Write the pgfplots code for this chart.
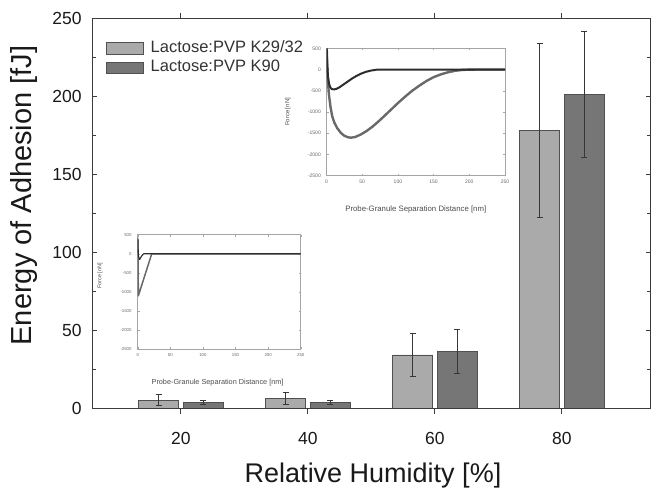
\documentclass[border=0pt]{standalone}
\usepackage{pgfplots}
\pgfplotsset{compat=1.18}
\usepackage{fontspec}
\setmainfont{Liberation Sans}
\definecolor{barA}{RGB}{170,170,170}
\definecolor{barB}{RGB}{118,118,118}
\definecolor{edge}{RGB}{80,80,80}
\definecolor{errc}{RGB}{55,55,55}
\definecolor{frame}{RGB}{60,60,60}
\definecolor{inframe}{RGB}{165,165,165}
\definecolor{curA}{RGB}{105,105,105}
\definecolor{curB}{RGB}{45,45,45}
\begin{document}
\begin{tikzpicture}
\useasboundingbox (0,0) rectangle (653pt,489pt);
% main axis
\begin{axis}[
  at={(92pt,81pt)}, anchor=south west, scale only axis,
  width=558.7pt, height=390pt,
  xmin=6, xmax=94, ymin=0, ymax=250,
  xtick={20,40,60,80}, ytick={0,50,...,250}, minor y tick num=1,
  xtick pos=top, xticklabel pos=bottom,
  ytick pos=both, yticklabel pos=left,
  tick align=inside,
  major tick length=5pt, minor tick length=3.5pt,
  axis line style={frame, line width=0.8pt},
  tick style={frame, line width=0.8pt},
  /pgf/number format/assume math mode=true,
  /pgf/number format/1000 sep={},
  ticklabel style={font=\fontsize{17.5}{20}\selectfont, text=black!90, inner sep=0pt},
  xticklabel style={yshift=-19.4pt},
  yticklabel style={xshift=-10.3pt},
  xlabel={Relative Humidity [\%]},
  xlabel style={at={(axis description cs:0.503,-0.19)}, anchor=base, font=\fontsize{27}{30}\selectfont, text=black!90},
  ylabel={Energy of Adhesion [fJ]},
  ylabel style={at={(axis description cs:-0.108,0.545)}, anchor=base, rotate=0, font=\fontsize{29}{31}\selectfont, text=black!90},
  ybar, bar width=6.3,
  legend style={draw=none, fill=none, at={(axis description cs:0.019,0.948)}, anchor=north west,
    font=\fontsize{16.5}{18}\selectfont, text=black!80,
    nodes={inner sep=0pt, text height=12pt, text depth=3.5pt},
    row sep=4pt,
    /tikz/every odd column/.append style={column sep=7.6pt}},
  legend image code/.code={\draw[#1] (0pt,-5.85pt) rectangle (36.7pt,5.85pt);},
  legend cell align=left,
]
\addplot[bar shift=-3.5, fill=barA, draw=edge, line width=0.6pt,
  error bars/.cd, y dir=both, y explicit,
  error bar style={errc, line width=0.8pt},
  error mark options={errc, line width=0.8pt, mark size=3pt, rotate=90}]
  coordinates {(20,5.1) +- (0,3.5) (40,6.0) +- (0,3.8) (60,34.0) +- (0,13.5) (80,178.0) +- (0,56.0)};
\addlegendentry{Lactose:PVP K29/32}
\addplot[bar shift=3.5, fill=barB, draw=edge, line width=0.6pt,
  error bars/.cd, y dir=both, y explicit,
  error bar style={errc, line width=0.8pt},
  error mark options={errc, line width=0.8pt, mark size=3pt, rotate=90}]
  coordinates {(20,3.5) +- (0,1.2) (40,3.7) +- (0,1.1) (60,36.4) +- (0,14.0) (80,201.0) +- (0,40.5)};
\addlegendentry{Lactose:PVP K90}
\end{axis}
% bottom outward ticks
\begin{axis}[
  at={(92pt,81pt)}, anchor=south west, scale only axis,
  width=558.7pt, height=390pt,
  xmin=6, xmax=94, ymin=0, ymax=250,
  axis x line*=bottom, axis y line=none,
  xtick={20,40,60,80}, xticklabels={},
  tick align=outside, major tick length=6pt,
  axis line style={frame, line width=0.8pt},
  tick style={frame, line width=0.8pt},
]
\addplot[draw=none] coordinates {(20,0) (80,0)};
\end{axis}
% upper inset
\begin{axis}[
  at={(326.5pt,313.3pt)}, anchor=south west, scale only axis,
  width=178.5pt, height=127.4pt,
  xmin=0, xmax=250, ymin=-2500, ymax=500,
  xtick={0,50,...,250}, ytick={-2500,-2000,...,500},
  tick align=inside, major tick length=2pt,
  axis line style={inframe, line width=0.5pt},
  tick style={inframe, line width=0.4pt},
  /pgf/number format/assume math mode=true,
  /pgf/number format/1000 sep={},
  ticklabel style={font=\fontsize{5}{6}\selectfont, text=black!60, inner sep=0pt},
  xticklabel style={yshift=-3.8pt},
  yticklabel style={xshift=-5.5pt},
  xlabel={Probe-Granule Separation Distance [nm]},
  xlabel style={at={(axis description cs:0.5,-0.269)}, anchor=center, font=\fontsize{7.8}{9}\selectfont, text=black!70},
  ylabel={Force [nN]},
  ylabel style={at={(axis description cs:-0.216,0.5)}, anchor=center, font=\fontsize{6}{7}\selectfont, text=black!70},
]
\addplot[curA, line width=2.4pt, line join=round] coordinates {
 (0.3,500) (1,100) (2,-300) (3.5,-600) (5.6,-880) (8,-1100) (11,-1250) (15,-1380)
 (20,-1490) (25,-1560) (30,-1595) (34,-1605) (40,-1590) (48,-1530) (56,-1450)
 (64,-1350) (72,-1235) (80,-1110) (90,-950) (100,-790) (110,-640) (120,-500)
 (130,-380) (140,-270) (150,-180) (160,-115) (170,-65) (180,-30) (190,-10)
 (200,-2) (210,0) (250,0)};
\addplot[curB, line width=2pt, line join=round] coordinates {
 (0.3,500) (1,150) (2,-150) (3.5,-330) (5,-410) (7,-455) (10,-470) (14,-455)
 (18,-420) (24,-350) (30,-280) (36,-210) (42,-150) (48,-100) (55,-55) (62,-25)
 (70,-5) (80,0) (250,0)};
\end{axis}
% lower inset
\begin{axis}[
  at={(137.7pt,139.7pt)}, anchor=south west, scale only axis,
  width=163pt, height=114.6pt,
  xmin=0, xmax=250, ymin=-2500, ymax=500,
  xtick={0,50,...,250}, ytick={-2500,-2000,...,500},
  tick align=inside, major tick length=2pt,
  axis line style={inframe, line width=0.5pt},
  tick style={inframe, line width=0.4pt},
  /pgf/number format/assume math mode=true,
  /pgf/number format/1000 sep={},
  ticklabel style={font=\fontsize{4.3}{5}\selectfont, text=black!60, inner sep=0pt},
  xticklabel style={yshift=-4pt},
  yticklabel style={xshift=-6pt},
  xlabel={Probe-Granule Separation Distance [nm]},
  xlabel style={at={(axis description cs:0.49,-0.294)}, anchor=center, font=\fontsize{7.3}{9}\selectfont, text=black!70},
  ylabel={Force [nN]},
  ylabel style={at={(axis description cs:-0.231,0.64)}, anchor=center, font=\fontsize{5.5}{7}\selectfont, text=black!70},
]
\addplot[curA, line width=1.5pt, line join=round] coordinates {
 (0.3,380) (1,-1100) (21.5,0) (250,0)};
\addplot[curB, line width=1.1pt, line join=round] coordinates {
 (0.3,420) (1,-50) (3,-150) (6,-60) (9,0) (250,0)};
\end{axis}
\end{tikzpicture}
\end{document}
